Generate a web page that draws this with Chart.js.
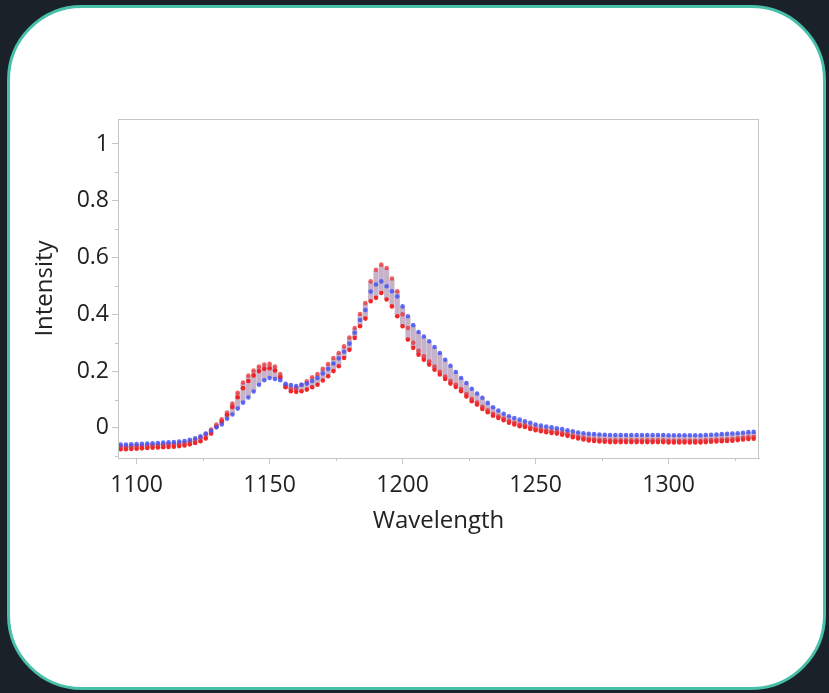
<!DOCTYPE html>
<html>
<head>
<meta charset="utf-8">
<script src="https://cdn.jsdelivr.net/npm/chart.js@4.4.1/dist/chart.umd.min.js"></script>
<style>
  html, body { margin: 0; padding: 0; background: #1a2128; width: 829px; height: 693px; overflow: hidden; }
  .card { position: absolute; left: 7px; top: 5px; width: 813px; height: 679px; background: #fff;
          border: 3px solid #47bfa9; border-radius: 75px; }
  #wrap { position: absolute; left: 20px; top: 100px; width: 760px; height: 460px; }
</style>
</head>
<body>
<div class="card"></div>
<div id="wrap"><canvas id="chart"></canvas></div>
<script>
// wavelengths (nm), one column of dots each
const wavelength = [
  1094,1096,1098,1100,1102,1104,1106,1108,1110,1112,1114,1116,1118,1120,1122,1124,1126,1128,1130,1132,
  1134,1136,1138,1140,1142,1144,1146,1148,1150,1152,1154,1156,1158,1160,1162,1164,1166,1168,1170,1172,
  1174,1176,1178,1180,1182,1184,1186,1188,1190,1192,1194,1196,1198,1200,1202,1204,1206,1208,1210,1212,
  1214,1216,1218,1220,1222,1224,1226,1228,1230,1232,1234,1236,1238,1240,1242,1244,1246,1248,1250,1252,
  1254,1256,1258,1260,1262,1264,1266,1268,1270,1272,1274,1276,1278,1280,1282,1284,1286,1288,1290,1292,
  1294,1296,1298,1300,1302,1304,1306,1308,1310,1312,1314,1316,1318,1320,1322,1324,1326,1328,1330,1332
];
// upper red spectrum
const redHigh = [
  -0.066,-0.066,-0.065,-0.064,-0.063,-0.062,-0.061,-0.060,-0.059,-0.058,-0.057,-0.055,-0.053,-0.048,-0.042,-0.034,-0.022,-0.006,0.012,0.030,
  0.054,0.086,0.124,0.160,0.184,0.202,0.216,0.223,0.226,0.216,0.190,0.150,0.138,0.140,0.152,0.164,0.178,0.190,0.208,0.225,
  0.246,0.264,0.287,0.318,0.352,0.401,0.440,0.516,0.557,0.575,0.563,0.526,0.481,0.400,0.352,0.300,0.272,0.252,0.234,0.216,
  0.198,0.181,0.165,0.152,0.137,0.119,0.102,0.089,0.074,0.062,0.050,0.041,0.033,0.024,0.018,0.012,0.009,0.002,-0.002,-0.006,
  -0.009,-0.012,-0.014,-0.018,-0.022,-0.027,-0.031,-0.035,-0.038,-0.040,-0.042,-0.043,-0.044,-0.044,-0.044,-0.044,-0.044,-0.044,-0.044,-0.044,
  -0.044,-0.044,-0.044,-0.045,-0.045,-0.045,-0.045,-0.045,-0.045,-0.045,-0.044,-0.043,-0.042,-0.041,-0.040,-0.039,-0.037,-0.035,-0.033,-0.032
];
// blue spectrum
const blue = [
  -0.059,-0.059,-0.058,-0.057,-0.056,-0.055,-0.054,-0.053,-0.052,-0.051,-0.050,-0.048,-0.046,-0.042,-0.037,-0.030,-0.020,-0.010,0.002,0.012,
  0.032,0.047,0.068,0.089,0.107,0.128,0.152,0.168,0.176,0.172,0.168,0.155,0.151,0.147,0.152,0.156,0.165,0.176,0.192,0.208,
  0.227,0.245,0.268,0.297,0.335,0.380,0.415,0.480,0.505,0.516,0.499,0.481,0.463,0.428,0.393,0.362,0.338,0.322,0.305,0.285,
  0.264,0.240,0.219,0.197,0.176,0.158,0.138,0.121,0.106,0.088,0.073,0.061,0.050,0.041,0.035,0.029,0.023,0.018,0.012,0.008,
  0.005,0.002,-0.001,-0.004,-0.008,-0.012,-0.016,-0.019,-0.021,-0.022,-0.023,-0.024,-0.025,-0.025,-0.025,-0.025,-0.025,-0.025,-0.025,-0.025,
  -0.025,-0.025,-0.025,-0.026,-0.026,-0.026,-0.026,-0.026,-0.026,-0.026,-0.025,-0.024,-0.023,-0.022,-0.021,-0.020,-0.019,-0.017,-0.015,-0.014
];
// lower red spectrum
const redLow = [
  -0.075,-0.075,-0.074,-0.073,-0.072,-0.071,-0.070,-0.069,-0.068,-0.067,-0.066,-0.064,-0.062,-0.058,-0.053,-0.047,-0.037,-0.020,0.004,0.022,
  0.046,0.074,0.108,0.140,0.165,0.185,0.200,0.208,0.210,0.202,0.178,0.143,0.129,0.127,0.129,0.135,0.143,0.152,0.167,0.182,
  0.200,0.217,0.246,0.275,0.317,0.358,0.385,0.446,0.458,0.475,0.452,0.428,0.393,0.358,0.311,0.282,0.258,0.240,0.223,0.205,
  0.188,0.172,0.156,0.144,0.129,0.111,0.094,0.082,0.067,0.055,0.043,0.035,0.027,0.018,0.012,0.006,0.003,-0.004,-0.008,-0.012,
  -0.015,-0.018,-0.020,-0.024,-0.028,-0.033,-0.037,-0.041,-0.044,-0.046,-0.048,-0.049,-0.050,-0.050,-0.050,-0.050,-0.050,-0.050,-0.050,-0.050,
  -0.050,-0.050,-0.050,-0.051,-0.051,-0.051,-0.051,-0.051,-0.051,-0.051,-0.050,-0.049,-0.048,-0.047,-0.046,-0.045,-0.043,-0.041,-0.039,-0.038
];

const xTicks = [1100, 1150, 1200, 1250, 1300];
const xMinorTicks = [1125, 1175, 1225, 1275, 1325];
const yTicks = [0, 0.2, 0.4, 0.6, 0.8, 1];
const yMinorTicks = [-0.1, 0.1, 0.3, 0.5, 0.7, 0.9];

const FONT = "'Open Sans', 'Noto Sans', sans-serif";
const AXIS_GRAY = '#c6c6c6';

// pale smear between the spectra of each column
const spread = wavelength.map((w, i) => ({
  x: w,
  y: [Math.min(redHigh[i], blue[i], redLow[i]), Math.max(redHigh[i], blue[i], redLow[i])]
}));
const pts = arr => wavelength.map((w, i) => ({ x: w, y: arr[i] }));

const frame = {
  id: 'frame',
  afterDraw(chart) {
    const { ctx, chartArea: a, scales } = chart;
    ctx.save();
    ctx.strokeStyle = AXIS_GRAY;
    ctx.lineWidth = 1;
    ctx.strokeRect(a.left + 0.5, a.top + 0.5, a.right - a.left - 1, a.bottom - a.top);
    ctx.beginPath();
    xMinorTicks.forEach(v => {
      const px = Math.round(scales.x.getPixelForValue(v)) + 0.5;
      ctx.moveTo(px, a.bottom); ctx.lineTo(px, a.bottom + 3);
    });
    yMinorTicks.forEach(v => {
      const py = Math.round(scales.y.getPixelForValue(v)) + 0.5;
      ctx.moveTo(a.left, py); ctx.lineTo(a.left - 3, py);
    });
    ctx.stroke();
    ctx.restore();
  }
};

new Chart(document.getElementById('chart'), {
  type: 'scatter',
  data: {
    datasets: [
      { label: 'blue', data: pts(blue), backgroundColor: 'rgba(70,85,245,0.85)', pointRadius: 2.3, borderWidth: 0, order: 1 },
      { label: 'red high', data: pts(redHigh), backgroundColor: 'rgba(235,45,50,0.75)', pointRadius: 2.3, borderWidth: 0, order: 2 },
      { label: 'red low', data: pts(redLow), backgroundColor: 'rgba(240,30,30,0.95)', pointRadius: 2.3, borderWidth: 0, order: 2 },
      { type: 'bar', label: 'spread', data: spread, backgroundColor: 'rgba(178,150,180,0.72)',
        barThickness: 4.5, borderRadius: 2, borderSkipped: false, order: 5 }
    ]
  },
  options: {
    animation: false,
    responsive: true,
    maintainAspectRatio: false,
    devicePixelRatio: 1,
    layout: { padding: { top: 19, right: 21, left: 0, bottom: 0 } },
    plugins: { legend: { display: false }, tooltip: { enabled: false } },
    scales: {
      x: {
        type: 'linear', min: 1093, max: 1334, offset: false,
        afterFit: s => { s.height = 102; },
        afterBuildTicks: s => { s.ticks = xTicks.map(v => ({ value: v })); },
        grid: { drawOnChartArea: false, tickLength: 6, color: AXIS_GRAY, offset: false },
        border: { color: AXIS_GRAY },
        ticks: { color: '#222', font: { family: FONT, size: 23 }, padding: 8, maxRotation: 0,
                 callback: v => String(v) },
        title: { display: true, text: 'Wavelength', color: '#222', font: { family: FONT, size: 24 },
                 padding: { top: 0, bottom: 24 } }
      },
      y: {
        type: 'linear', min: -0.106, max: 1.088,
        afterFit: s => { s.width = 98; },
        afterBuildTicks: s => { s.ticks = yTicks.map(v => ({ value: v })); },
        grid: { drawOnChartArea: false, tickLength: 6, color: AXIS_GRAY },
        border: { color: AXIS_GRAY },
        ticks: { color: '#222', font: { family: FONT, size: 23 }, padding: 3,
                 callback: v => String(Math.round(v * 10) / 10) },
        title: { display: true, text: 'Intensity', color: '#222', font: { family: FONT, size: 24 },
                 padding: { top: 11, bottom: 0 } }
      }
    }
  },
  plugins: [frame]
});
</script>
</body>
</html>
